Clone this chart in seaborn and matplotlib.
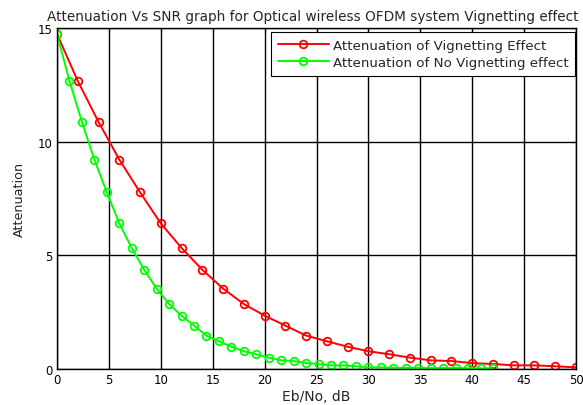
import numpy as np
import pandas as pd
import matplotlib
matplotlib.use("Agg")
import matplotlib.pyplot as plt
import seaborn as sns

# ─────────────────────────────────────────────
# Data
# ─────────────────────────────────────────────
snr_vig = list(range(0, 52, 2))  # 0..50 dB, step 2
att_vig = [14.75, 12.68, 10.88, 9.22, 7.78, 6.41, 5.33, 4.37, 3.54, 2.86,
           2.35, 1.91, 1.47, 1.22, 0.98, 0.78, 0.65, 0.50, 0.38, 0.35,
           0.26, 0.22, 0.16, 0.16, 0.12, 0.07]

snr_novig = [round(1.2 * i, 1) for i in range(36)]  # 0..42 dB, step 1.2
att_novig = [14.75, 12.68, 10.88, 9.22, 7.78, 6.41, 5.33, 4.37, 3.54, 2.86,
             2.35, 1.91, 1.47, 1.22, 0.98, 0.78, 0.65, 0.50, 0.38, 0.35,
             0.26, 0.22, 0.16, 0.16, 0.12, 0.07, 0.07, 0.06, 0.05, 0.05,
             0.04, 0.04, 0.04, 0.03, 0.03, 0.03]

label_vig = "Attenuation of Vignetting Effect"
label_novig = "Attenuation of No Vignetting effect"

x_ticks = [0, 5, 10, 15, 20, 25, 30, 35, 40, 45, 50]
y_ticks = [0, 5, 10, 15]

# ─────────────────────────────────────────────
# Plot
# ─────────────────────────────────────────────
sns.set_style("white")
plt.rcParams['font.family'] = ['DejaVu Sans']

fig = plt.figure(figsize=(5.83, 4.06), dpi=100)
ax = fig.add_axes([0.0978, 0.0887, 0.8902, 0.8391])

df_vig = pd.DataFrame({"snr": snr_vig, "att": att_vig})
df_novig = pd.DataFrame({"snr": snr_novig, "att": att_novig})

common = dict(marker='o', markersize=5.5, markerfacecolor='none',
              markeredgewidth=1.3, linewidth=1.4)
sns.lineplot(data=df_vig, x="snr", y="att", ax=ax, color='#ff0000',
             markeredgecolor='#ff0000', label=label_vig, **common)
sns.lineplot(data=df_novig, x="snr", y="att", ax=ax, color='#00ff00',
             markeredgecolor='#00ff00', label=label_novig, **common)

ax.set_xlim(0, 50)
ax.set_ylim(0, 15)
ax.set_xticks(x_ticks)
ax.set_yticks(y_ticks)
ax.grid(True, color='black', linestyle='-', linewidth=1.0)
ax.set_axisbelow(True)
for s in ax.spines.values():
    s.set_color('black')
    s.set_linewidth(1.0)
ax.tick_params(direction='in', length=3, width=0.8, labelsize=8.5,
               top=True, right=True, colors='black', pad=3)

ax.set_xlabel("Eb/No, dB", fontsize=10, labelpad=2)
ax.set_ylabel("Attenuation", fontsize=9.2, labelpad=9)
ax.set_title("Attenuation Vs SNR graph for Optical wireless OFDM system Vignetting effect",
             fontsize=9.8, pad=6, x=0.492)

leg = ax.legend(loc='upper right', bbox_to_anchor=(0.998, 0.988),
                fontsize=9.6, frameon=True, fancybox=False,
                edgecolor='black', framealpha=1, handlelength=3.8,
                handletextpad=0.3, borderaxespad=0, borderpad=0.5,
                labelspacing=0.3)
leg.get_frame().set_linewidth(0.8)

fig.savefig("out.png", dpi=100, facecolor='white')
